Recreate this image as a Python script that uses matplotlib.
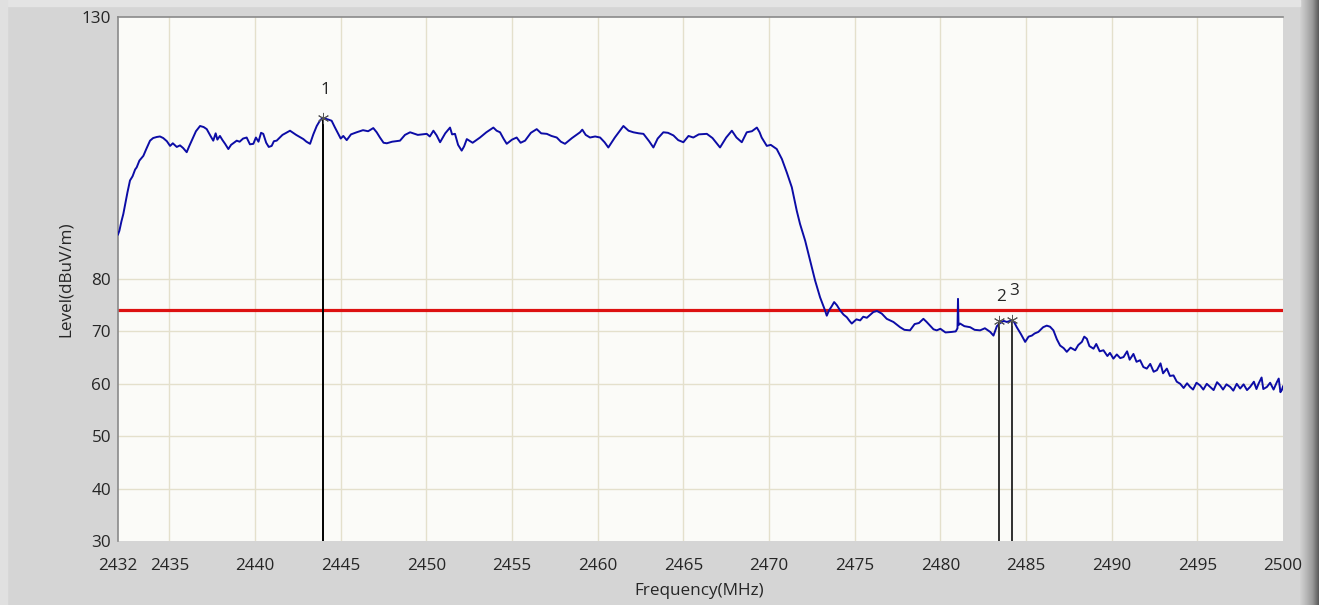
import matplotlib
matplotlib.use("Agg")
import matplotlib.pyplot as plt
import numpy as np

# ---------------- data ----------------
freq = [
    2432.00, 2432.08, 2432.20, 2432.31, 2432.45, 2432.55, 2432.70, 2432.85, 2433.00, 2433.09,
    2433.25, 2433.48, 2433.65, 2433.87, 2434.05, 2434.26, 2434.45, 2434.64, 2434.85, 2435.04,
    2435.20, 2435.43, 2435.62, 2435.80, 2436.01, 2436.15, 2436.30, 2436.55, 2436.79, 2437.00,
    2437.18, 2437.40, 2437.56, 2437.70, 2437.80, 2437.95, 2438.10, 2438.25, 2438.44, 2438.60,
    2438.93, 2439.10, 2439.30, 2439.51, 2439.70, 2439.90, 2440.05, 2440.20, 2440.35, 2440.48,
    2440.65, 2440.80, 2440.97, 2441.10, 2441.26, 2441.60, 2442.04, 2442.40, 2442.82, 2443.00,
    2443.21, 2443.40, 2443.60, 2443.80, 2443.97, 2444.10, 2444.30, 2444.47, 2444.65, 2444.86,
    2445.00, 2445.15, 2445.35, 2445.60, 2445.93, 2446.30, 2446.60, 2446.90, 2447.10, 2447.29,
    2447.50, 2447.69, 2448.00, 2448.46, 2448.75, 2449.05, 2449.50, 2450.02, 2450.20, 2450.41,
    2450.60, 2450.80, 2451.10, 2451.38, 2451.50, 2451.67, 2451.85, 2452.06, 2452.20, 2452.36,
    2452.70, 2453.13, 2453.50, 2453.91, 2454.10, 2454.30, 2454.50, 2454.69, 2455.00, 2455.27,
    2455.50, 2455.76, 2456.10, 2456.44, 2456.70, 2457.03, 2457.30, 2457.61, 2457.85, 2458.09,
    2458.50, 2458.97, 2459.10, 2459.30, 2459.55, 2459.85, 2460.14, 2460.40, 2460.62, 2461.00,
    2461.50, 2461.80, 2462.08, 2462.40, 2462.67, 2463.00, 2463.25, 2463.50, 2463.83, 2464.10,
    2464.42, 2464.70, 2465.00, 2465.30, 2465.58, 2465.90, 2466.37, 2466.70, 2467.14, 2467.50,
    2467.83, 2468.10, 2468.41, 2468.70, 2469.00, 2469.29, 2469.45, 2469.57, 2469.87, 2470.10,
    2470.45, 2470.75, 2471.04, 2471.33, 2471.62, 2471.81, 2472.11, 2472.40, 2472.69, 2472.98,
    2473.27, 2473.37, 2473.50, 2473.66, 2473.80, 2473.96, 2474.15, 2474.35, 2474.54, 2474.70,
    2474.83, 2475.10, 2475.32, 2475.50, 2475.71, 2476.09, 2476.30, 2476.58, 2476.87, 2477.26,
    2477.65, 2477.90, 2478.23, 2478.50, 2478.75, 2479.01, 2479.20, 2479.40, 2479.60, 2479.79,
    2480.00, 2480.30, 2480.67, 2480.90, 2481.00, 2481.03, 2481.06, 2481.15, 2481.40, 2481.74,
    2482.00, 2482.32, 2482.60, 2482.91, 2483.10, 2483.30, 2483.49, 2483.70, 2483.88, 2484.17,
    2484.30, 2484.46, 2484.70, 2484.95, 2485.15, 2485.34, 2485.50, 2485.72, 2486.00, 2486.21,
    2486.40, 2486.60, 2486.80, 2486.99, 2487.20, 2487.38, 2487.60, 2487.87, 2488.05, 2488.26,
    2488.40, 2488.55, 2488.70, 2488.94, 2489.10, 2489.30, 2489.52, 2489.75, 2489.90, 2490.10,
    2490.30, 2490.50, 2490.69, 2490.90, 2491.05, 2491.27, 2491.45, 2491.66, 2491.85, 2492.05,
    2492.25, 2492.45, 2492.64, 2492.85, 2493.00, 2493.22, 2493.40, 2493.61, 2493.80, 2494.00,
    2494.20, 2494.40, 2494.58, 2494.75, 2494.95, 2495.16, 2495.35, 2495.55, 2495.75, 2495.95,
    2496.15, 2496.33, 2496.50, 2496.70, 2496.92, 2497.10, 2497.30, 2497.50, 2497.70, 2497.90,
    2498.08, 2498.30, 2498.45, 2498.57, 2498.75, 2498.85, 2499.06, 2499.25, 2499.45, 2499.64,
    2499.75, 2499.85, 2499.93, 2500.00,
]
level = [
    88.5, 89.2, 91.0, 92.4, 94.8, 96.5, 98.8, 99.6, 100.9, 101.3,
    102.6, 103.5, 104.8, 106.4, 106.9, 107.1, 107.2, 106.9, 106.3, 105.4,
    105.9, 105.2, 105.5, 105.0, 104.2, 105.3, 106.4, 108.2, 109.2, 109.0,
    108.6, 107.3, 106.4, 107.8, 106.6, 107.3, 106.5, 105.8, 104.8, 105.6,
    106.4, 106.2, 106.8, 107.0, 105.7, 105.8, 107.0, 106.2, 107.9, 107.7,
    106.0, 105.2, 105.4, 106.3, 106.4, 107.5, 108.3, 107.5, 106.7, 106.2,
    105.8, 107.6, 109.2, 110.3, 110.8, 110.6, 110.4, 110.2, 109.0, 107.7,
    106.8, 107.3, 106.5, 107.6, 108.0, 108.4, 108.2, 108.8, 108.0, 107.0,
    106.0, 105.9, 106.2, 106.4, 107.5, 108.0, 107.5, 107.7, 107.2, 108.3,
    107.4, 106.1, 107.8, 108.9, 107.6, 107.7, 105.6, 104.5, 105.3, 106.7,
    106.0, 107.0, 108.0, 108.9, 108.3, 108.0, 106.8, 105.8, 106.6, 107.0,
    106.0, 106.4, 107.9, 108.6, 107.8, 107.7, 107.3, 107.0, 106.2, 105.8,
    106.9, 108.0, 108.5, 107.5, 107.0, 107.2, 107.0, 106.1, 105.1, 107.0,
    109.2, 108.3, 108.0, 107.8, 107.7, 106.3, 105.1, 106.8, 108.0, 107.9,
    107.4, 106.5, 106.1, 107.3, 107.0, 107.6, 107.7, 106.9, 105.1, 107.0,
    108.3, 107.0, 106.1, 108.0, 108.2, 108.9, 108.0, 107.0, 105.4, 105.6,
    104.8, 102.9, 100.3, 97.5, 93.0, 90.5, 87.3, 83.5, 79.7, 76.5,
    74.0, 73.0, 74.0, 74.8, 75.6, 75.0, 74.0, 73.2, 72.7, 72.0,
    71.5, 72.3, 72.1, 72.8, 72.6, 73.7, 73.9, 73.4, 72.4, 71.8,
    70.8, 70.3, 70.2, 71.4, 71.6, 72.4, 71.8, 71.1, 70.4, 70.2,
    70.5, 69.8, 69.9, 70.0, 70.6, 76.2, 71.2, 71.5, 71.0, 70.8,
    70.3, 70.2, 70.6, 69.9, 69.2, 71.0, 71.6, 72.0, 71.8, 72.1,
    71.8, 70.8, 69.5, 68.0, 69.0, 69.2, 69.6, 69.9, 70.8, 71.1,
    70.9, 70.2, 68.5, 67.3, 66.8, 66.1, 66.9, 66.4, 67.4, 68.0,
    69.0, 68.6, 67.2, 66.7, 67.6, 66.2, 66.4, 65.3, 65.9, 64.8,
    65.6, 64.9, 65.1, 66.2, 64.6, 65.7, 64.2, 64.5, 63.2, 62.9,
    63.8, 62.3, 62.6, 63.9, 62.0, 62.9, 61.5, 61.6, 60.4, 60.0,
    59.2, 60.1, 59.4, 58.9, 60.2, 59.7, 58.9, 60.0, 59.4, 58.8,
    60.3, 59.7, 58.9, 59.9, 59.4, 58.7, 60.0, 59.1, 59.9, 58.8,
    59.4, 60.4, 59.0, 60.0, 61.2, 59.0, 59.4, 60.2, 58.9, 60.3,
    61.0, 58.4, 58.8, 59.5,
]

limit_level = 74.0
marker_freq = [2443.97, 2483.45, 2484.20]
marker_level = [110.8, 72.0, 72.1]
marker_label = ["1", "2", "3"]

x_ticks = [2432, 2435, 2440, 2445, 2450, 2455, 2460, 2465, 2470, 2475,
           2480, 2485, 2490, 2495, 2500]
y_ticks = [30, 40, 50, 60, 70, 80, 130]

# ---------------- figure ----------------
W, H = 1319, 605
fig = plt.figure(figsize=(W / 100, H / 100), dpi=100, facecolor="#d5d5d5")

# window frame shading on right side
gax = fig.add_axes([1300 / W, 0, 19 / W, 1])
grad = np.linspace(0, 1, 50)[None, :]
gax.imshow(grad, aspect="auto", cmap=matplotlib.colors.LinearSegmentedColormap.from_list(
    "g", ["#d2d2d2", "#b8b8b8", "#9a9a9a", "#5a5a5a"]), extent=[0, 1, 0, 1])
gax.axis("off")
fig.patches.append(plt.Rectangle((0, 1 - 6 / H), 1300 / W, 6 / H, transform=fig.transFigure,
                                 color="#e4e4e4", zorder=0))
fig.patches.append(plt.Rectangle((0, 0), 7 / W, 1, transform=fig.transFigure,
                                 color="#e0e0e0", zorder=0))

font = "Open Sans"
fs = 12.3
txtc = "#262626"

left, right, top, bottom = 118, 1283, 17, 541
ax = fig.add_axes([left / W, 1 - bottom / H, (right - left) / W, (bottom - top) / H])
ax.set_facecolor("#fbfbf8")
ax.set_xlim(2432, 2500)
ax.set_ylim(30, 130)

ax.set_xticks(x_ticks)
ax.set_yticks(y_ticks)
ax.set_xticklabels([str(t) for t in x_ticks], fontfamily=font, fontsize=fs, color=txtc)
ax.set_yticklabels([str(t) for t in y_ticks], fontfamily=font, fontsize=fs, color=txtc)
ax.tick_params(axis="both", length=0)
ax.tick_params(axis="x", pad=12)
ax.tick_params(axis="y", pad=5)

# grid: vertical at all x ticks, horizontal at 40..80
for t in x_ticks[1:-1]:
    ax.axvline(t, color="#e4e0cc", lw=1.0, zorder=0)
for t in [40, 50, 60, 70, 80]:
    ax.axhline(t, color="#e4e0cc", lw=1.0, zorder=0)

for s in ["bottom", "right"]:
    ax.spines[s].set_visible(False)
for s in ["left", "top"]:
    ax.spines[s].set_color("#8a8a8a")
    ax.spines[s].set_linewidth(1.2)

# limit line
ax.axhline(limit_level, color="#dd1111", lw=2.3, zorder=2)

# trace
ax.plot(freq, level, color="#0c0ca6", lw=1.4, zorder=3)

# markers
for f, l, c in zip(marker_freq, marker_level, ["#000000", "#303030", "#303030"]):
    ax.plot([f, f], [30, l], color=c, lw=1.4, zorder=4)
    ax.plot([f], [l], marker=(6, 2, 0), ms=8, color="#555555", mew=0.7, zorder=5)
off = {"1": (2, 28), "2": (2, 24), "3": (2, 29)}
for f, l, lab in zip(marker_freq, marker_level, marker_label):
    ax.annotate(lab, (f, l), xytext=off[lab], textcoords="offset pixels",
                ha="center", va="center", fontfamily=font, fontsize=fs, color=txtc)

ax.set_xlabel("Frequency(MHz)", fontfamily=font, fontsize=fs, color=txtc)
ax.xaxis.set_label_coords(0.499, -0.080)
ax.set_ylabel("Level(dBuV/m)", fontfamily=font, fontsize=fs, color=txtc)
ax.yaxis.set_label_coords(-0.038, 0.5)

fig.savefig("out.png", dpi=100, facecolor=fig.get_facecolor())
